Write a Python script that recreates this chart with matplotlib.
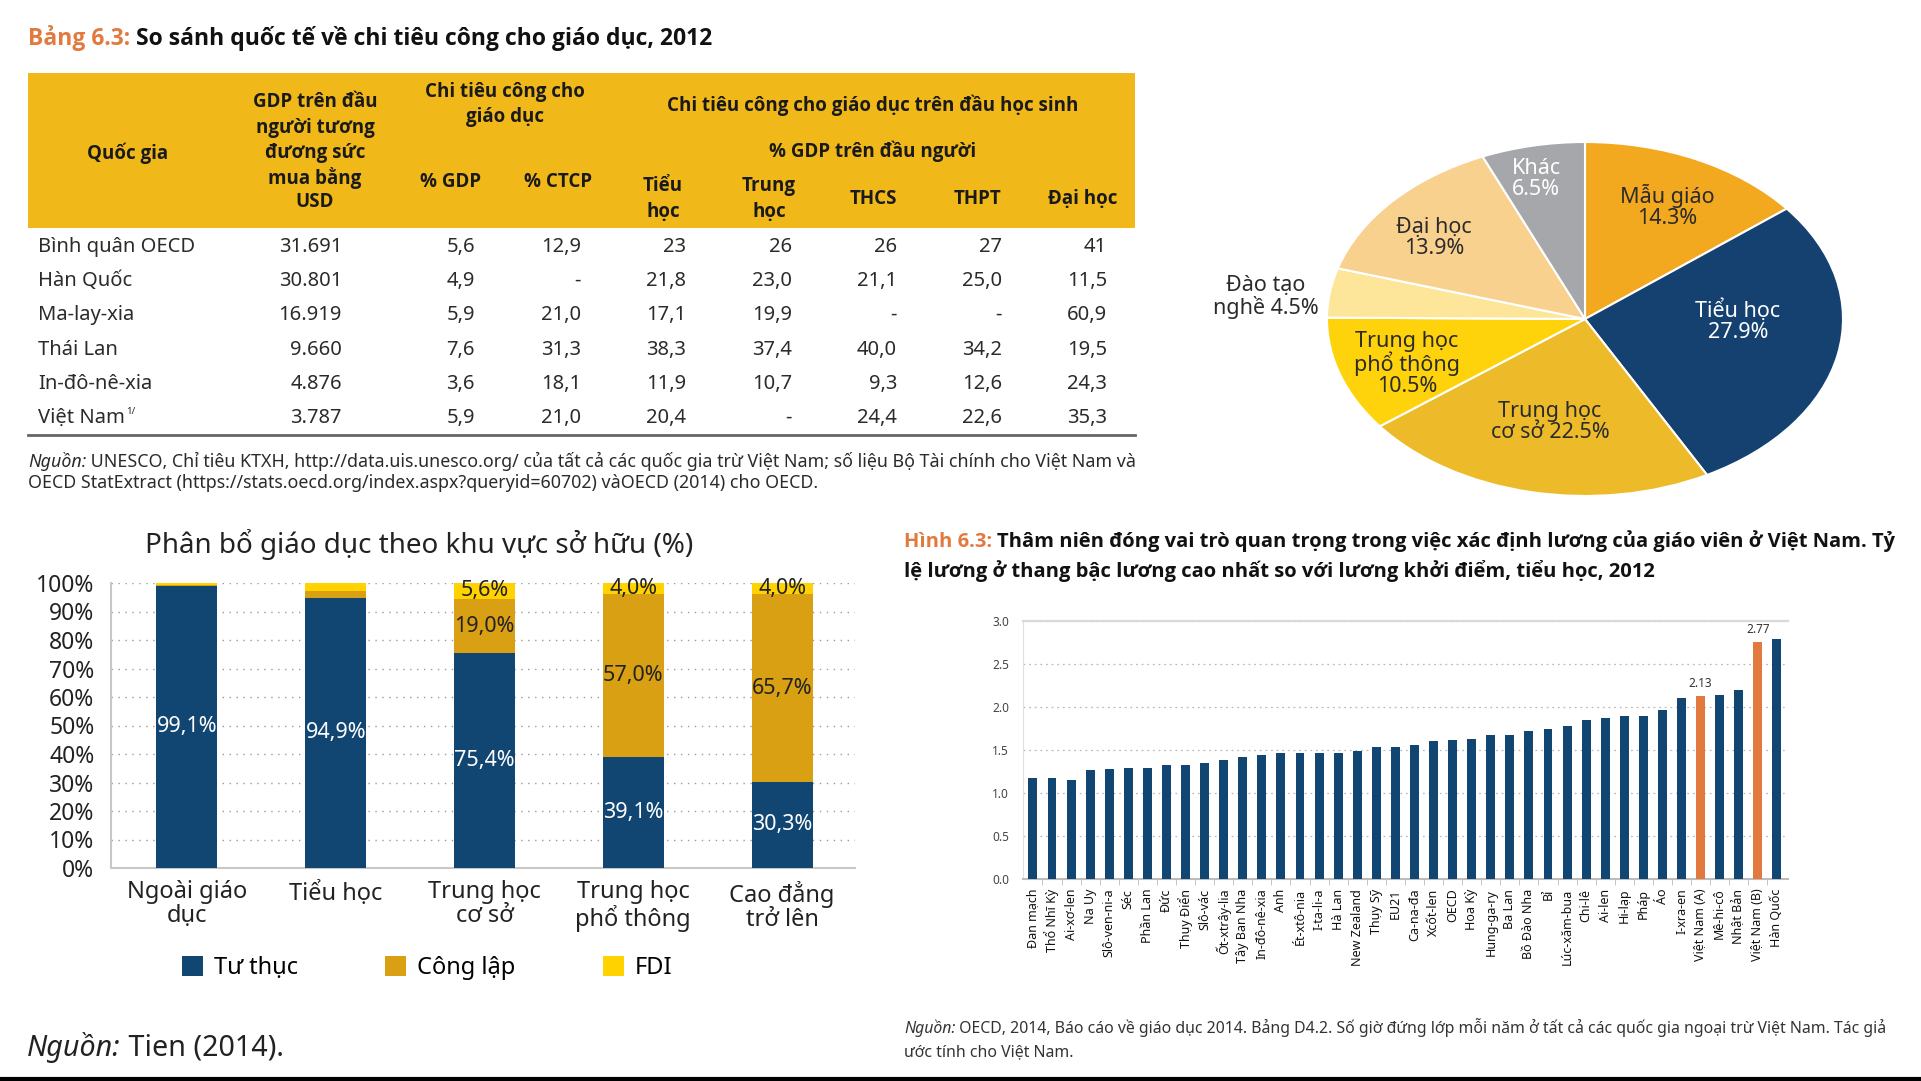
import matplotlib
matplotlib.use("Agg")
import matplotlib.pyplot as plt
from matplotlib import font_manager
from matplotlib.patches import Rectangle
import numpy as np

W, H = 1921, 1081

fonts = font_manager.fontManager.ttflist


def has_bold(name):
    for f in fonts:
        if f.name != name:
            continue
        w = f.weight
        if isinstance(w, str):
            w = font_manager.weight_dict.get(w, 400)
        if w >= 600:
            return True
    return False


def pick(names, bold=False):
    for n in names:
        if any(f.name == n for f in fonts) and (not bold or has_bold(n)):
            return n
    return "DejaVu Sans"


MAIN = pick(["Noto Sans", "Open Sans", "DejaVu Sans"])
BOLD = pick(["Noto Sans", "Open Sans", "Roboto", "Liberation Sans", "Lato", "DejaVu Sans"], bold=True)
plt.rcParams["font.family"] = [MAIN, "DejaVu Sans"]
BFAM = [BOLD, "DejaVu Sans"]

# ---- Bang 6.3 (table) ----
tbl_countries = ["Bình quân OECD", "Hàn Quốc", "Ma-lay-xia", "Thái Lan", "In-đô-nê-xia", "Việt Nam"]
gdp_ppp = ["31.691", "30.801", "16.919", "9.660", "4.876", "3.787"]
pct_gdp = ["5,6", "4,9", "5,9", "7,6", "3,6", "5,9"]
pct_ctcp = ["12,9", "-", "21,0", "31,3", "18,1", "21,0"]
per_tieu_hoc = ["23", "21,8", "17,1", "38,3", "11,9", "20,4"]
per_trung_hoc = ["26", "23,0", "19,9", "37,4", "10,7", "-"]
per_thcs = ["26", "21,1", "-", "40,0", "9,3", "24,4"]
per_thpt = ["27", "25,0", "-", "34,2", "12,6", "22,6"]
per_dai_hoc = ["41", "11,5", "60,9", "19,5", "24,3", "35,3"]

# ---- pie ----
pie_names = ["Mẫu giáo\n", "Tiểu học\n", "Trung học\ncơ sở ", "Trung học\nphổ thông\n",
             "Đào tạo\nnghề ", "Đại học\n", "Khác\n"]
pie_values = [14.3, 27.9, 22.5, 10.5, 4.5, 13.9, 6.5]

# ---- ownership stacked bars ----
levels = ["Ngoài giáo\ndục", "Tiểu học", "Trung học\ncơ sở", "Trung học\nphổ thông", "Cao đẳng\ntrở lên"]
tu_thuc = [99.1, 94.9, 75.4, 39.1, 30.3]
cong_lap = [0.3, 2.3, 19.0, 57.0, 65.7]
fdi = [0.6, 2.8, 5.6, 4.0, 4.0]
shown_tu_thuc = [True, True, True, True, True]
shown_cong_lap = [False, False, True, True, True]
shown_fdi = [False, False, True, True, True]

# ---- Hinh 6.3 ----
countries = ["Đan mạch", "Thổ Nhĩ Kỳ", "Ai-xơ-len", "Na Uy", "Slô-ven-ni-a", "Séc", "Phần Lan",
             "Đức", "Thụy Điển", "Slô-vác", "Ốt-xtrây-lia", "Tây Ban Nha", "In-đô-nê-xia", "Anh",
             "Ét-xtô-nia", "I-ta-li-a", "Hà Lan", "New Zealand", "Thụy Sỹ", "EU21", "Ca-na-đa",
             "Xcốt-len", "OECD", "Hoa Kỳ", "Hung-ga-ry", "Ba Lan", "Bồ Đào Nha", "Bỉ",
             "Lúc-xăm-bua", "Chi-lê", "Ai-len", "Hi-lạp", "Pháp", "Áo", "I-xra-en",
             "Việt Nam (A)", "Mê-hi-cô", "Nhật Bản", "Việt Nam (B)", "Hàn Quốc"]
ratio = [1.17, 1.17, 1.15, 1.27, 1.28, 1.29, 1.29, 1.33, 1.33, 1.35, 1.38, 1.42, 1.44, 1.47,
         1.47, 1.47, 1.47, 1.49, 1.54, 1.54, 1.56, 1.60, 1.62, 1.63, 1.67, 1.67, 1.72, 1.74,
         1.78, 1.85, 1.87, 1.89, 1.89, 1.96, 2.10, 2.13, 2.14, 2.20, 2.76, 2.79]
highlight = ["Việt Nam (A)", "Việt Nam (B)"]
value_labels = {"Việt Nam (A)": "2.13", "Việt Nam (B)": "2.77"}

ORANGE = "#E27A3F"
NAVY = "#114572"
TEXT = "#2b2b2b"

fig = plt.figure(figsize=(W / 100, H / 100), dpi=100)
bg = fig.add_axes([0, 0, 1, 1])
bg.set_xlim(0, W)
bg.set_ylim(H, 0)
bg.axis("off")
renderer = fig.canvas.get_renderer()


def rich(x, y, parts, fontsize, width=None, **kw):
    # pieces of text on one baseline; optionally scaled so the line spans `width` px
    def draw(fs):
        xx, arts = x, []
        for txt, props in parts:
            t = bg.text(xx, y, txt, ha="left", va="baseline", fontsize=fs, **kw, **props)
            xx += t.get_window_extent(renderer).width
            arts.append(t)
        return xx - x, arts
    w, arts = draw(fontsize)
    if width is None:
        return fontsize
    for a in arts:
        a.remove()
    fs = fontsize * width / w
    draw(fs)
    return fs


# ---------- table ----------
rich(28, 45, [("Bảng 6.3: ", dict(color=ORANGE)),
              ("So sánh quốc tế về chi tiêu công cho giáo dục, 2012", dict(color="#111"))],
     14, width=689, fontweight="bold", family=BFAM)

bg.add_patch(Rectangle((28, 73), 1107, 155, color="#F1B81A", lw=0))
header = [("Quốc gia", 128, 153), ("GDP trên đầu", 315, 102), ("người tương", 315, 128),
          ("đương sức", 315, 153), ("mua bằng", 315, 178), ("USD", 315, 202),
          ("Chi tiêu công cho", 505, 92), ("giáo dục", 505, 117),
          ("% GDP", 451, 182), ("% CTCP", 558, 182),
          ("Chi tiêu công cho giáo dục trên đầu học sinh", 873, 105),
          ("% GDP trên đầu người", 873, 151),
          ("Tiểu", 663, 186), ("học", 663, 212), ("Trung", 769, 186), ("học", 769, 212),
          ("THCS", 873, 199), ("THPT", 978, 199), ("Đại học", 1083, 199)]
for txt, x, y in header:
    bg.text(x, y, txt, ha="center", va="center", fontsize=13.5, fontweight="bold",
            color="#1a1a1a", family=BFAM)

row_y = [247, 281, 315, 350, 384, 418]
col_right = [342, 475, 581, 686, 792, 897, 1002, 1107]
columns = [gdp_ppp, pct_gdp, pct_ctcp, per_tieu_hoc, per_trung_hoc, per_thcs, per_thpt, per_dai_hoc]
for i, name in enumerate(tbl_countries):
    t = bg.text(38, row_y[i], name, ha="left", va="center", fontsize=14.5, color=TEXT)
    if name == "Việt Nam":
        bb = t.get_window_extent(renderer)
        bg.text(38 + bb.width + 1, row_y[i] - 6, "1/", ha="left", va="center", fontsize=7, color=TEXT)
    for col, xr in zip(columns, col_right):
        bg.text(xr, row_y[i], col[i], ha="right", va="center", fontsize=14.5, color=TEXT)
bg.plot([28, 1135], [435, 435], color="#666", lw=2)

fs_src = rich(28, 467, [("Nguồn:", dict(style="italic")),
                        (" UNESCO, Chỉ tiêu KTXH, http://data.uis.unesco.org/ của tất cả các quốc gia trừ Việt Nam; "
                         "số liệu Bộ Tài chính cho Việt Nam và", {})], 10, width=1108, color=TEXT)
bg.text(28, 488, "OECD StatExtract (https://stats.oecd.org/index.aspx?queryid=60702) vàOECD (2014) cho OECD.",
        ha="left", va="baseline", fontsize=fs_src, color=TEXT)

# ---------- pie ----------
pcx, pcy, prx, pry = 1585, 319, 258, 177
axp = fig.add_axes([(pcx - prx) / W, 1 - (pcy + pry) / H, 2 * prx / W, 2 * pry / H])
pie_colors = ["#F3A91F", "#14416F", "#EDBB2A", "#FFD30B", "#FDE59A", "#F9D18F", "#A5A7AA"]
axp.pie(pie_values, colors=pie_colors, startangle=90, counterclock=False,
        wedgeprops=dict(edgecolor="white", linewidth=1.5))
axp.set_aspect("auto")
axp.set_xlim(-1, 1)
axp.set_ylim(-1, 1)
pie_label_pos = [(1667, 207), (1738, 321), (1550, 422), (1407, 364), (1266, 297), (1434, 238), (1536, 179)]
pie_label_col = [TEXT, "white", TEXT, TEXT, TEXT, TEXT, "white"]
for name, v, (x, y), c in zip(pie_names, pie_values, pie_label_pos, pie_label_col):
    axp.text(x, y, f"{name}{v}%", ha="center", va="center", fontsize=15.5, color=c,
             linespacing=1.0, transform=bg.transData, clip_on=False)

# ---------- ownership stacked bars ----------
ax1 = fig.add_axes([111 / W, 1 - 868 / H, (855 - 111) / W, (868 - 583) / H])
xpos = np.arange(len(levels))
c_tu, c_cong, c_fdi = "#114572", "#D9A014", "#FFD200"
b1 = ax1.bar(xpos, tu_thuc, width=0.41, color=c_tu, label="Tư thục", zorder=3)
b2 = ax1.bar(xpos, cong_lap, width=0.41, bottom=tu_thuc, color=c_cong, label="Công lập", zorder=3)
bottom3 = np.array(tu_thuc) + np.array(cong_lap)
b3 = ax1.bar(xpos, fdi, width=0.41, bottom=bottom3, color=c_fdi, label="FDI", zorder=3)
for i in xpos:
    segs = [(tu_thuc[i], 0, shown_tu_thuc[i], "white"),
            (cong_lap[i], tu_thuc[i], shown_cong_lap[i], "#222"),
            (fdi[i], bottom3[i], shown_fdi[i], "#222")]
    for val, bot, show, col in segs:
        if show:
            ax1.text(i, bot + val / 2, f"{val:.1f}%".replace(".", ","), ha="center", va="center",
                     fontsize=15.5, color=col, zorder=4)
ax1.set_xlim(-0.51, 4.49)
ax1.set_ylim(0, 100)
ax1.set_yticks(np.arange(0, 101, 10))
ax1.set_yticklabels([f"{v}%" for v in range(0, 101, 10)], fontsize=16.5, color="#222")
ax1.set_xticks(xpos)
ax1.set_xticklabels(levels, fontsize=17, color="#222", linespacing=1.0)
ax1.tick_params(axis="y", length=0, pad=12)
ax1.tick_params(axis="x", length=0, pad=9)
ax1.grid(axis="y", linestyle=(0, (1, 4)), color="#9a9a9a", lw=1, zorder=0)
for s in ["top", "right"]:
    ax1.spines[s].set_visible(False)
ax1.spines["left"].set_color("#c8c8c8")
ax1.spines["bottom"].set_color("#c8c8c8")
ax1.spines["left"].set_linewidth(1.5)
ax1.spines["bottom"].set_linewidth(1.5)
t1 = bg.text(419, 545, "Phân bổ giáo dục theo khu vực sở hữu (%)", ha="center", va="center",
             fontsize=17, color="#222")
t1.set_fontsize(17 * 548 / t1.get_window_extent(renderer).width)
ax1.legend(handles=[b1, b2, b3], loc="center left", bbox_to_anchor=(182 / W, 1 - 968 / H),
           bbox_transform=fig.transFigure, ncol=3, frameon=False, fontsize=17,
           handlelength=0.9, handleheight=0.9, handletextpad=0.45, columnspacing=3.7,
           borderaxespad=0, borderpad=0)

rich(27, 1056, [("Nguồn:", dict(style="italic")), (" Tien (2014).", {})], 17, width=256, color="#222")

# ---------- Hinh 6.3 ----------
fs_t = rich(904, 547, [("Hình 6.3: ", dict(color=ORANGE)),
                       ("Thâm niên đóng vai trò quan trọng trong việc xác định lương của giáo viên ở Việt Nam. Tỷ",
                        dict(color="#111"))], 13, width=983, fontweight="bold", family=BFAM)
bg.text(904, 577, "lệ lương ở thang bậc lương cao nhất so với lương khởi điểm, tiểu học, 2012",
        ha="left", va="baseline", fontsize=fs_t, fontweight="bold", color="#111", family=BFAM)

ax2 = fig.add_axes([1023 / W, 1 - 879 / H, (1788 - 1023) / W, (879 - 621) / H])
xc = np.arange(len(countries))
bar_cols = [ORANGE if c in highlight else NAVY for c in countries]
ax2.bar(xc, ratio, width=0.47, color=bar_cols, zorder=3)
for i, c in enumerate(countries):
    if c in value_labels:
        ax2.text(i, ratio[i] + 0.07, value_labels[c], ha="center", va="bottom", fontsize=8.5, color="#333")
ax2.set_xlim(-0.52, 39.58)
ax2.set_ylim(0, 3.0)
ax2.set_yticks(np.arange(0, 3.01, 0.5))
ax2.set_yticklabels([f"{v:.1f}" for v in np.arange(0, 3.01, 0.5)], fontsize=8.5, color="#444")
ax2.set_xticks(xc)
ax2.set_xticklabels(countries, rotation=90, fontsize=9, color="#111")
ax2.set_xticks(xc[:-1] + 0.5, minor=True)
ax2.tick_params(axis="x", which="major", length=0, pad=7)
ax2.tick_params(axis="x", which="minor", length=4, color="#bbbbbb")
ax2.tick_params(axis="y", length=0, pad=10)
ax2.grid(axis="y", linestyle=(0, (1.5, 3)), color="#bbbbbb", lw=0.9, zorder=0)
ax2.spines["right"].set_visible(False)
ax2.spines["top"].set_color("#d9d9d9")
ax2.spines["top"].set_linewidth(1.6)
ax2.spines["left"].set_color("#e0e0e0")
ax2.spines["bottom"].set_color("#bdbdbd")
ax2.spines["bottom"].set_linewidth(1.5)

fs_s = rich(904, 1033, [("Nguồn:", dict(style="italic")),
                        (" OECD, 2014, Báo cáo về giáo dục 2014. Bảng D4.2. Số giờ đứng lớp mỗi năm ở tất cả các "
                         "quốc gia ngoại trừ Việt Nam. Tác giả", {})], 9.5, width=983, color="#333")
bg.text(904, 1056, "ước tính cho Việt Nam.", ha="left", va="baseline", fontsize=fs_s, color="#333")

bg.plot([0, W], [1079, 1079], color="black", lw=3)

fig.savefig("out.png", dpi=100)
